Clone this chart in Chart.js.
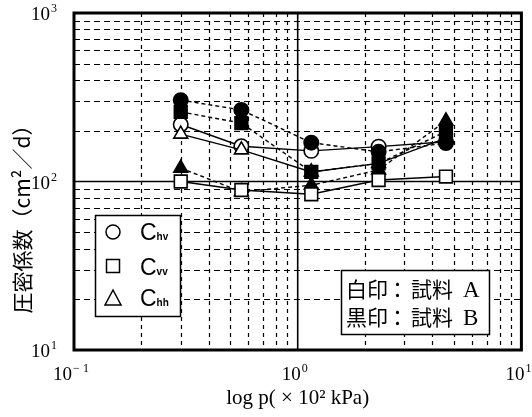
<!DOCTYPE html>
<html>
<head>
<meta charset="utf-8">
<script src="https://cdn.jsdelivr.net/npm/chart.js@4.4.0/dist/chart.umd.min.js"></script>
<style>
  html, body { margin: 0; padding: 0; background: #fff; }
  #wrap { width: 532px; height: 417px; }
</style>
</head>
<body>
<div id="wrap"><canvas id="c" width="532" height="417"></canvas></div>
<script>
// Consolidation pressure p (x 10^2 kPa)
const pressure = [0.3, 0.56, 1.15, 2.3, 4.6];

// Coefficient of consolidation (cm^2/d), sample A (open markers)
const chvA = [218, 162, 152, 161, 172];
const cvvA = [100, 89, 84, 102, 107];
const chhA = [191, 154, 114, 128, 181];

// Sample B (filled markers)
const chvB = [304, 266, 170, 150, 169];
const cvvB = [259, 222, 114, 128, 198];
const chhB = [120, 87, 95, 117, 229];

// Axis decades and minor steps
const xDecades = [-1, 0, 1];
const yDecades = [1, 2, 3];
const minorSteps = [2, 3, 4, 5, 6, 7, 8, 9];

// Text
const xTitle = 'log p( × 10² kPa)';
const yTitle = '圧密係数（cm²／d）';
const seriesNames = [['circle', 'hv'], ['rect', 'vv'], ['triangle', 'hh']];
const sampleNotes = [['白印', '試料', 'A'], ['黒印', '試料', 'B']];

const SERIF = '"Liberation Serif", "Times New Roman", serif';
const CJK = '"Noto Sans CJK JP", sans-serif';

function series(label, ys, style, filled, radius, order) {
  return {
    label,
    data: pressure.map((p, i) => ({ x: p, y: ys[i] })),
    showLine: true,
    borderColor: '#000',
    borderWidth: 1.4,
    borderDash: filled ? [4, 3] : [],
    pointStyle: style,
    pointRadius: radius,
    pointHoverRadius: radius,
    pointBackgroundColor: filled ? '#000' : '#fff',
    pointBorderColor: '#000',
    pointBorderWidth: 1.6,
    tension: 0,
    fill: false,
    order
  };
}

function drawPower(ctx, exp, x, baseline, align) {
  const base = '10';
  const sup = exp < 0 ? '− ' + Math.abs(exp) : String(exp);
  ctx.font = '19px ' + SERIF;
  const wb = ctx.measureText(base).width;
  ctx.font = '12px ' + SERIF;
  const ws = ctx.measureText(sup).width;
  const total = wb + 1 + ws;
  let left = x - total / 2;
  if (align === 'right') left = x - total;
  ctx.textAlign = 'left';
  ctx.textBaseline = 'alphabetic';
  ctx.font = '19px ' + SERIF;
  ctx.fillText(base, left, baseline);
  ctx.font = '12px ' + SERIF;
  ctx.fillText(sup, left + wb + 1, baseline - 8);
}

function marker(ctx, style, x, y) {
  ctx.beginPath();
  if (style === 'circle') {
    ctx.arc(x, y, 7, 0, Math.PI * 2);
  } else if (style === 'rect') {
    ctx.rect(x - 6.5, y - 6.5, 13, 13);
  } else {
    ctx.moveTo(x, y - 9);
    ctx.lineTo(x + 8, y + 6);
    ctx.lineTo(x - 8, y + 6);
    ctx.closePath();
  }
  ctx.fillStyle = '#fff';
  ctx.fill();
  ctx.stroke();
}

const gridPlugin = {
  id: 'logGrid',
  beforeDatasetsDraw(chart) {
    const { ctx, chartArea: a, scales: { x, y } } = chart;
    ctx.save();
    ctx.strokeStyle = '#000';
    ctx.lineWidth = 1.2;
    // minor vertical lines
    ctx.setLineDash([4, 4]);
    xDecades.slice(0, -1).forEach(e => minorSteps.forEach(m => {
      const px = Math.round(x.getPixelForValue(m * Math.pow(10, e))) + 0.5;
      ctx.beginPath(); ctx.moveTo(px, a.top); ctx.lineTo(px, a.bottom); ctx.stroke();
    }));
    // minor horizontal lines
    ctx.setLineDash([6, 4]);
    yDecades.slice(0, -1).forEach(e => minorSteps.forEach(m => {
      const py = Math.round(y.getPixelForValue(m * Math.pow(10, e))) + 0.5;
      ctx.beginPath(); ctx.moveTo(a.left, py); ctx.lineTo(a.right, py); ctx.stroke();
    }));
    // major lines
    ctx.setLineDash([]);
    ctx.lineWidth = 1.6;
    xDecades.slice(1, -1).forEach(e => {
      const px = x.getPixelForValue(Math.pow(10, e));
      ctx.beginPath(); ctx.moveTo(px, a.top); ctx.lineTo(px, a.bottom); ctx.stroke();
    });
    yDecades.slice(1, -1).forEach(e => {
      const py = y.getPixelForValue(Math.pow(10, e));
      ctx.beginPath(); ctx.moveTo(a.left, py); ctx.lineTo(a.right, py); ctx.stroke();
    });
    ctx.restore();
  },
  afterDatasetsDraw(chart) {
    const { ctx, chartArea: a, scales: { x, y } } = chart;
    ctx.save();
    ctx.fillStyle = '#000';
    ctx.strokeStyle = '#000';

    // frame
    ctx.lineWidth = 3;
    ctx.strokeRect(a.left, a.top, a.right - a.left, a.bottom - a.top);

    // tick labels
    xDecades.forEach(e => drawPower(ctx, e, x.getPixelForValue(Math.pow(10, e)) - 3, 380, 'center'));
    yDecades.forEach(e => drawPower(ctx, e, 57, y.getPixelForValue(Math.pow(10, e)) + 7, 'right'));

    // axis titles
    ctx.fillStyle = '#000';
    ctx.font = '21px ' + SERIF;
    ctx.textAlign = 'center';
    ctx.textBaseline = 'alphabetic';
    ctx.fillText(xTitle, (a.left + a.right) / 2, 404);

    ctx.save();
    ctx.translate(22, 214);
    ctx.rotate(-Math.PI / 2);
    ctx.font = '21px ' + CJK;
    ctx.textAlign = 'center';
    ctx.textBaseline = 'middle';
    ctx.fillText(yTitle, 0, 0);
    ctx.restore();

    // series key
    ctx.lineWidth = 1.5;
    ctx.fillStyle = '#fff';
    ctx.fillRect(95, 215, 85, 101);
    ctx.strokeRect(95.5, 215.5, 85, 101);
    const rowsY = [232, 266, 299];
    const baseY = [240, 275, 306];
    seriesNames.forEach(([style, sub], i) => {
      ctx.lineWidth = 1.5;
      marker(ctx, style, 113, rowsY[i]);
      ctx.fillStyle = '#000';
      ctx.textAlign = 'left';
      ctx.textBaseline = 'alphabetic';
      ctx.font = '23px "Liberation Sans", sans-serif';
      ctx.fillText('C', 140, baseY[i]);
      const wc = ctx.measureText('C').width;
      ctx.font = 'bold 10px "Liberation Sans", sans-serif';
      ctx.fillText(sub, 140 + wc, baseY[i]);
    });

    // sample note box
    ctx.fillStyle = '#fff';
    ctx.fillRect(341, 270, 148, 64);
    ctx.lineWidth = 1.5;
    ctx.strokeRect(341.5, 270.5, 148, 64);
    const noteBase = [297, 325];
    sampleNotes.forEach(([mark, word, letter], i) => {
      ctx.fillStyle = '#000';
      ctx.textAlign = 'left';
      ctx.textBaseline = 'alphabetic';
      ctx.font = '21px ' + CJK;
      ctx.fillText(mark, 346, noteBase[i]);
      ctx.fillText('：', 387, noteBase[i]);
      ctx.fillText(word, 411, noteBase[i]);
      ctx.font = '23px ' + SERIF;
      ctx.fillText(letter, 463, noteBase[i]);
    });

    ctx.restore();
  }
};

new Chart(document.getElementById('c'), {
  type: 'scatter',
  data: {
    datasets: [
      series('Chv B', chvB, 'circle', true, 7.2, 1),
      series('Cvv B', cvvB, 'rect', true, 9, 2),
      series('Chh A', chhA, 'triangle', false, 8, 3),
      series('Cvv A', cvvA, 'rect', false, 9, 4),
      series('Chh B', chhB, 'triangle', true, 8, 5),
      series('Chv A', chvA, 'circle', false, 7.2, 6)
    ]
  },
  options: {
    responsive: false,
    devicePixelRatio: 1,
    animation: false,
    layout: { padding: { left: 74, right: 5, top: 13, bottom: 67 } },
    plugins: { legend: { display: false }, tooltip: { enabled: false } },
    scales: {
      x: { type: 'logarithmic', min: 0.1, max: 10, display: false },
      y: { type: 'logarithmic', min: 10, max: 1000, display: false }
    }
  },
  plugins: [gridPlugin]
});
</script>
</body>
</html>
